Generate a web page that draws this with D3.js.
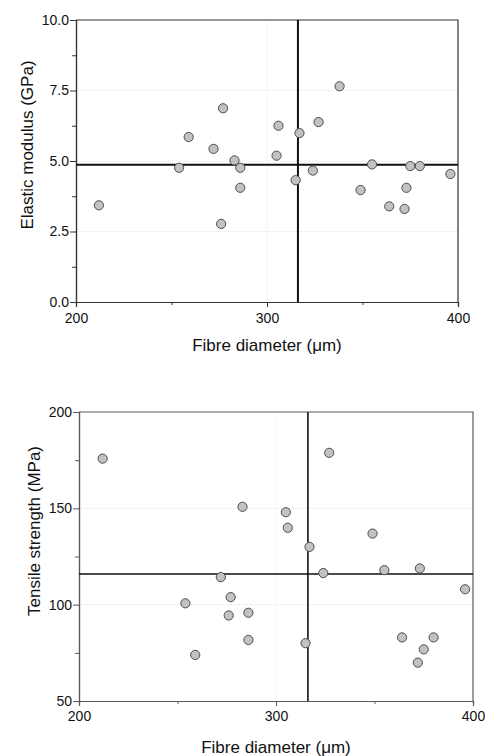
<!DOCTYPE html>
<html>
<head>
<meta charset="utf-8">
<script src="https://cdn.jsdelivr.net/npm/d3@7"></script>
<style>
  html, body { margin: 0; padding: 0; background: #fff; }
  svg text { font-family: "Liberation Sans", Arial, sans-serif; fill: #111; }
</style>
</head>
<body>
<svg id="chart" width="485" height="756"></svg>
<script>
// data
var modDiameter = [212, 254, 259, 272, 277, 283, 286, 286, 276, 305, 306, 317, 315, 324, 327, 338, 349, 355, 364, 372, 373, 375, 380, 396];
var modulus     = [3.43, 4.76, 5.85, 5.43, 6.87, 5.02, 4.76, 4.05, 2.77, 5.19, 6.25, 5.99, 4.32, 4.66, 6.38, 7.65, 3.97, 4.88, 3.39, 3.30, 4.05, 4.82, 4.82, 4.54];

var strDiameter = [212, 254, 259, 272, 277, 276, 283, 286, 286, 305, 306, 317, 315, 324, 327, 349, 355, 364, 372, 375, 373, 380, 396];
var strength    = [175.8, 100.7, 73.9, 114.3, 103.9, 94.4, 150.8, 95.8, 81.7, 148.0, 139.9, 130.0, 80.0, 116.4, 178.8, 136.9, 117.9, 83.0, 69.9, 76.8, 118.8, 83.0, 108.0];

var meanDiameter = 316.2;
var meanModulus = 4.87;
var meanStrength = 115.9;

var xTicks = [200, 300, 400];
var xMinor = [250, 350];
var modTicks = [0, 2.5, 5, 7.5, 10];
var modMinor = [1.25, 3.75, 6.25, 8.75];
var strTicks = [50, 100, 150, 200];
var strMinor = [75, 125, 175];

var svg = d3.select("#chart");

function drawPanel(p) {
    var x = d3.scaleLinear().domain([200, 400]).range([p.left, p.right]);
    var y = d3.scaleLinear().domain(p.yDomain).range([p.bottom, p.top]);
    var g = svg.append("g");

    // faint dotted grid
    g.selectAll(".hgrid")
	.data(p.yTicks.slice(1, -1))
	.enter().append("line")
	.attr("x1", p.left).attr("x2", p.right)
	.attr("y1", function(d){ return y(d); })
	.attr("y2", function(d){ return y(d); })
	.style("stroke", "#e4e4e4")
	.style("stroke-dasharray", "1,1");
    g.append("line")
	.attr("x1", x(300)).attr("x2", x(300))
	.attr("y1", p.top).attr("y2", p.bottom)
	.style("stroke", "#ececec")
	.style("stroke-dasharray", "1,1");

    // frame top / right
    g.append("path")
	.attr("d", "M" + p.left + "," + p.top + "H" + p.right + "V" + p.bottom)
	.style("fill", "none")
	.style("stroke", p.frame)
	.style("stroke-width", 1.2);

    // axes
    var xAxis = g.append("g")
	.attr("transform", "translate(0," + p.bottom + ")")
	.call(d3.axisBottom(x).tickValues(xTicks).tickFormat(d3.format("d")).tickSize(5).tickPadding(p.xPad));
    var xMin = g.append("g")
	.attr("transform", "translate(0," + p.bottom + ")")
	.call(d3.axisBottom(x).tickValues(xMinor).tickFormat("").tickSize(3));
    var yAxis = g.append("g")
	.attr("transform", "translate(" + p.left + ",0)")
	.call(d3.axisLeft(y).tickValues(p.yTicks).tickFormat(p.yFormat).tickSize(6).tickPadding(1));
    var yMin = g.append("g")
	.attr("transform", "translate(" + p.left + ",0)")
	.call(d3.axisLeft(y).tickValues(p.yMinor).tickFormat("").tickSize(4));

    [xAxis, xMin, yAxis, yMin].forEach(function(a){
	a.select(".domain").style("stroke", p.frame).style("stroke-width", 1.2);
	a.selectAll(".tick line").style("stroke", p.frame);
	a.selectAll("text")
	    .style("font-size", "14px")
	    .style("font-family", "'Liberation Sans', Arial, sans-serif")
	    .attr("fill", "#111");
    });

    // mean lines
    g.append("line")
	.attr("x1", x(p.meanX)).attr("x2", x(p.meanX))
	.attr("y1", p.top).attr("y2", p.bottom)
	.style("stroke", "#111")
	.style("stroke-width", p.meanWidth);
    g.append("line")
	.attr("x1", p.left).attr("x2", p.right)
	.attr("y1", y(p.meanY)).attr("y2", y(p.meanY))
	.style("stroke", "#111")
	.style("stroke-width", p.meanWidth);

    // points
    g.selectAll(".pt")
	.data(p.xs)
	.enter().append("circle")
	.attr("cx", function(d){ return x(d); })
	.attr("cy", function(d, i){ return y(p.ys[i]); })
	.attr("r", 4.6)
	.style("fill", "#c2c2c2")
	.style("stroke", "#4d4d4d")
	.style("stroke-width", 1);

    // axis titles
    g.append("text")
	.attr("x", (p.left + p.right) / 2)
	.attr("y", p.xTitleY)
	.attr("text-anchor", "middle")
	.style("font-size", "17px")
	.text("Fibre diameter (\u03bcm)");
    g.append("text")
	.attr("transform", "translate(" + p.yTitleX + "," + p.yTitleMid + ") rotate(-90)")
	.attr("text-anchor", "middle")
	.style("font-size", "17px")
	.text(p.yTitle);
}

drawPanel({
    left: 76, right: 458, top: 20, bottom: 302,
    yDomain: [0, 10], yTicks: modTicks, yMinor: modMinor,
    yFormat: d3.format(".1f"),
    xs: modDiameter, ys: modulus,
    meanX: meanDiameter, meanY: meanModulus, meanWidth: 2,
    frame: "#333", xPad: 6,
    xTitleY: 351, yTitleX: 33, yTitleMid: 145,
    yTitle: "Elastic modulus (GPa)"
});

drawPanel({
    left: 79, right: 473, top: 412, bottom: 701,
    yDomain: [50, 200], yTicks: strTicks, yMinor: strMinor,
    yFormat: d3.format("d"),
    xs: strDiameter, ys: strength,
    meanX: meanDiameter, meanY: meanStrength, meanWidth: 1.6,
    frame: "#5a5a5a", xPad: 5,
    xTitleY: 753, yTitleX: 40, yTitleMid: 531,
    yTitle: "Tensile strength (MPa)"
});
</script>
</body>
</html>
